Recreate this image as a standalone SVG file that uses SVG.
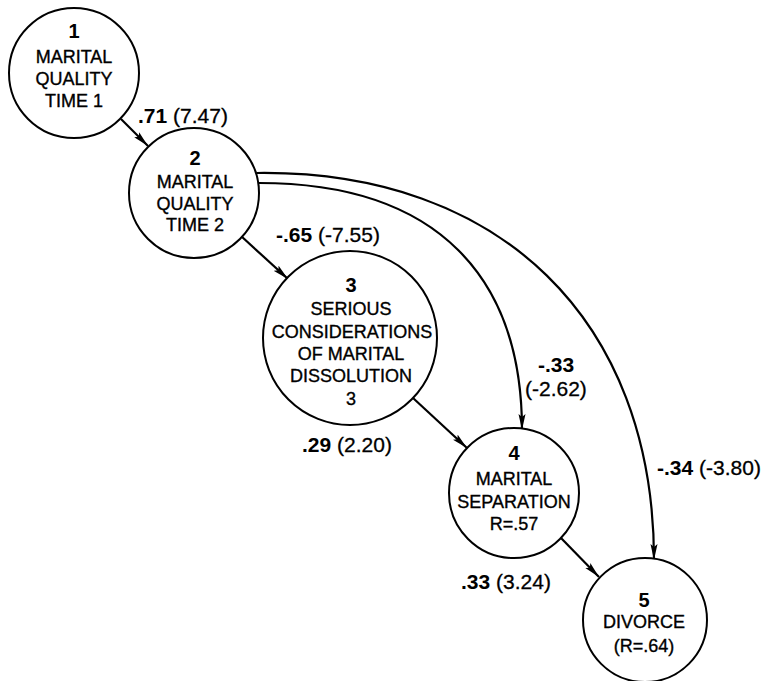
<svg xmlns="http://www.w3.org/2000/svg" width="778" height="681" viewBox="0 0 778 681">
<style>
.node circle{fill:#fff;stroke:#000;stroke-width:2}
.num{font-family:"Liberation Sans",Arial,sans-serif;font-size:20px;font-weight:bold;text-anchor:middle;fill:#000}
.lbl{font-family:"Liberation Sans",Arial,sans-serif;font-size:18px;text-anchor:middle;fill:#000;stroke:#000;stroke-width:0.35}
.edge{fill:none;stroke:#000;stroke-width:2.2;marker-end:url(#arr)}
.coef{font-family:"Liberation Sans",Arial,sans-serif;font-size:21px;fill:#000;stroke:#000;stroke-width:0.3}
.coef tspan.b{font-weight:bold;stroke-width:0}
</style>
<defs>
<marker id="arr" viewBox="0 0 16 8" refX="16" refY="4" markerWidth="16" markerHeight="8" markerUnits="userSpaceOnUse" orient="auto">
<path d="M0,0.5 L16,4 L0,7.5 L3,4 Z" fill="#000"/>
</marker>
</defs>
<rect width="778" height="681" fill="#fff"/>
<g id="connectors">
<line class="edge" x1="121" y1="119" x2="148" y2="146"/>
<line class="edge" x1="241" y1="236" x2="288" y2="279"/>
<line class="edge" x1="413" y1="398" x2="467" y2="448"/>
<line class="edge" x1="561" y1="538" x2="599" y2="577"/>
<path class="edge" d="M259,183 C440,183 522,280 522,430"/>
<path class="edge" d="M257,173 C500,170 654,320 654,560"/>
</g>
<g id="labels">
<text class="coef" x="138" y="123"><tspan class="b">.71</tspan> (7.47)</text>
<text class="coef" x="276" y="242"><tspan class="b">-.65</tspan> (-7.55)</text>
<text class="coef" x="302" y="452"><tspan class="b">.29</tspan> (2.20)</text>
<text class="coef" x="538" y="372"><tspan class="b">-.33</tspan></text>
<text class="coef" x="525" y="396">(-2.62)</text>
<text class="coef" x="657" y="475"><tspan class="b">-.34</tspan> (-3.80)</text>
<text class="coef" x="461" y="589"><tspan class="b">.33</tspan> (3.24)</text>
</g>
<g id="node1" class="node">
<circle cx="74" cy="73" r="65"/>
<text class="num" x="74" y="38">1</text>
<text class="lbl" x="74" y="63">MARITAL</text>
<text class="lbl" x="74" y="85">QUALITY</text>
<text class="lbl" x="74" y="107">TIME 1</text>
</g>
<g id="node2" class="node">
<circle cx="194" cy="193" r="65"/>
<text class="num" x="195" y="165">2</text>
<text class="lbl" x="195" y="188">MARITAL</text>
<text class="lbl" x="195" y="210">QUALITY</text>
<text class="lbl" x="195" y="231">TIME 2</text>
</g>
<g id="node3" class="node">
<circle cx="350" cy="338" r="87"/>
<text class="num" x="351" y="292">3</text>
<text class="lbl" x="351" y="315">SERIOUS</text>
<text class="lbl" x="352" y="338">CONSIDERATIONS</text>
<text class="lbl" x="351" y="360">OF MARITAL</text>
<text class="lbl" x="351" y="382">DISSOLUTION</text>
<text class="lbl" x="351" y="405">3</text>
</g>
<g id="node4" class="node">
<circle cx="514" cy="493" r="65"/>
<text class="num" x="514" y="460">4</text>
<text class="lbl" x="514" y="485">MARITAL</text>
<text class="lbl" x="514" y="508">SEPARATION</text>
<text class="lbl" x="514" y="530">R=.57</text>
</g>
<g id="node5" class="node">
<circle cx="645" cy="620" r="62"/>
<text class="num" x="644" y="607">5</text>
<text class="lbl" x="644" y="628">DIVORCE</text>
<text class="lbl" x="644" y="652">(R=.64)</text>
</g>
</svg>
